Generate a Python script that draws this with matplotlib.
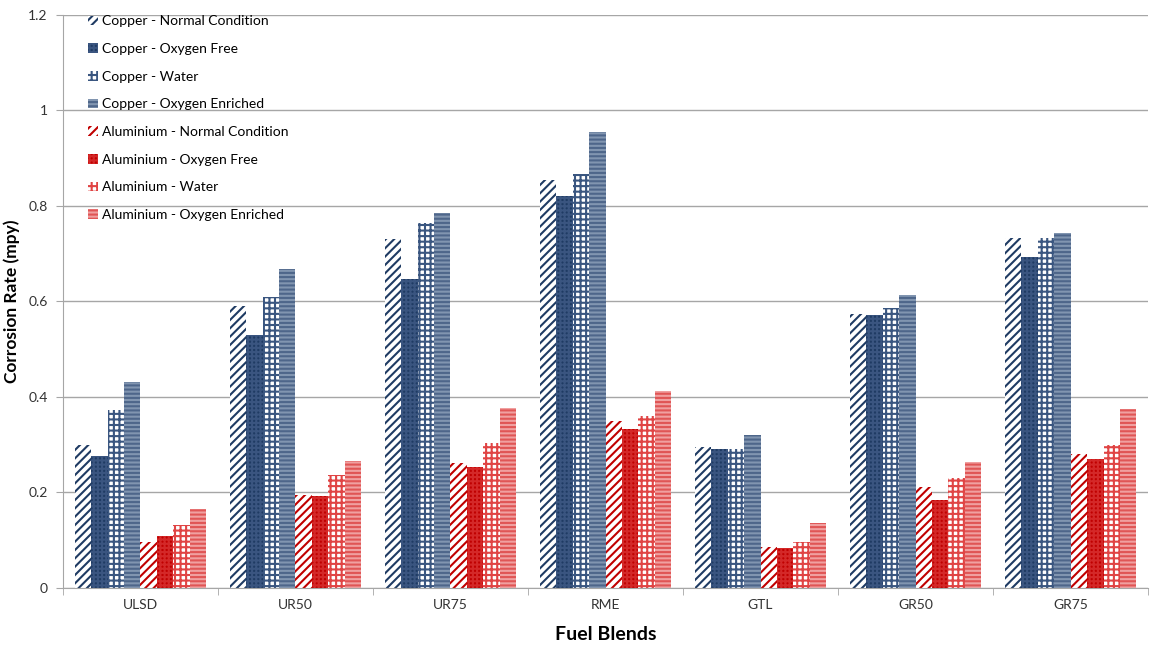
import numpy as np
import matplotlib
matplotlib.use("Agg")
import matplotlib.pyplot as plt
from matplotlib.ticker import FixedLocator, NullFormatter

plt.rcParams['font.family'] = ['Lato', 'DejaVu Sans']
plt.rcParams['hatch.linewidth'] = 1.5

categories = ["ULSD", "UR50", "UR75", "RME", "GTL", "GR50", "GR75"]

series_names = [
    "Copper - Normal Condition",
    "Copper - Oxygen Free",
    "Copper - Water",
    "Copper - Oxygen Enriched",
    "Aluminium - Normal Condition",
    "Aluminium - Oxygen Free",
    "Aluminium - Water",
    "Aluminium - Oxygen Enriched",
]

cu_normal = [0.300, 0.590, 0.731, 0.854, 0.295, 0.574, 0.733]
cu_oxfree = [0.277, 0.530, 0.647, 0.821, 0.291, 0.572, 0.694]
cu_water = [0.373, 0.609, 0.764, 0.867, 0.291, 0.586, 0.733]
cu_enriched = [0.431, 0.668, 0.785, 0.955, 0.320, 0.614, 0.743]
al_normal = [0.096, 0.195, 0.262, 0.350, 0.086, 0.212, 0.280]
al_oxfree = [0.109, 0.193, 0.253, 0.333, 0.084, 0.184, 0.270]
al_water = [0.132, 0.237, 0.304, 0.360, 0.096, 0.230, 0.299]
al_enriched = [0.165, 0.266, 0.377, 0.413, 0.136, 0.264, 0.375]

series = [cu_normal, cu_oxfree, cu_water, cu_enriched,
          al_normal, al_oxfree, al_water, al_enriched]

styles = [
    dict(facecolor="white", edgecolor="#1F3B63", hatch="////"),
    dict(facecolor="#1F3B63", edgecolor="#3A5580", hatch="++++"),
    dict(facecolor="white", edgecolor="#3A5680", hatch="+++"),
    dict(facecolor="#8195B0", edgecolor="#4E668A", hatch="----"),
    dict(facecolor="white", edgecolor="#C00000", hatch="////"),
    dict(facecolor="#C00000", edgecolor="#D42828", hatch="++++"),
    dict(facecolor="white", edgecolor="#E04444", hatch="+++"),
    dict(facecolor="#F0A0A0", edgecolor="#E05555", hatch="----"),
]

fig = plt.figure(figsize=(11.55, 6.47), dpi=100)
ax = fig.add_axes([0.0545, 0.0912, 0.9395, 0.8858])

n = len(series)
x = np.arange(len(categories))
total_w = 0.85
w = total_w / n
for i, (vals, name, st) in enumerate(zip(series, series_names, styles)):
    pos = x - total_w / 2 + w * (i + 0.5)
    ax.bar(pos, vals, width=w, label=name, linewidth=0, **st)

ax.set_xlim(-0.5, len(categories) - 0.5)
ax.set_ylim(0, 1.2)
ax.set_yticks(np.arange(0, 1.21, 0.2))
ax.set_yticklabels(["0", "0.2", "0.4", "0.6", "0.8", "1", "1.2"])
ax.yaxis.grid(True, color="#A6A6A6", linewidth=1.0)
ax.set_axisbelow(True)

ax.set_xticks(x)
ax.set_xticklabels(categories)
ax.tick_params(axis="x", which="major", length=0, pad=8)
ax.xaxis.set_minor_locator(FixedLocator(np.arange(-0.5, len(categories), 1.0)))
ax.xaxis.set_minor_formatter(NullFormatter())
ax.tick_params(axis="x", which="minor", length=5, color="#A6A6A6", direction="out")
ax.tick_params(axis="y", length=5, color="#A6A6A6", pad=6)
ax.tick_params(labelsize=10, labelcolor="#333333")

for s in ["top", "right"]:
    ax.spines[s].set_visible(False)
for s in ["left", "bottom"]:
    ax.spines[s].set_color("#A6A6A6")

ax.set_xlabel("Fuel Blends", fontsize=14, fontweight="bold", labelpad=11)
ax.set_ylabel("Corrosion Rate (mpy)", fontsize=12.5, fontweight="bold", labelpad=6)

leg = ax.legend(loc="upper left", bbox_to_anchor=(0.018, 1.009), frameon=False,
                fontsize=10, handlelength=0.7, handleheight=0.7,
                handletextpad=0.3, labelspacing=1.13, borderaxespad=0)

fig.savefig("out.png", dpi=100)
